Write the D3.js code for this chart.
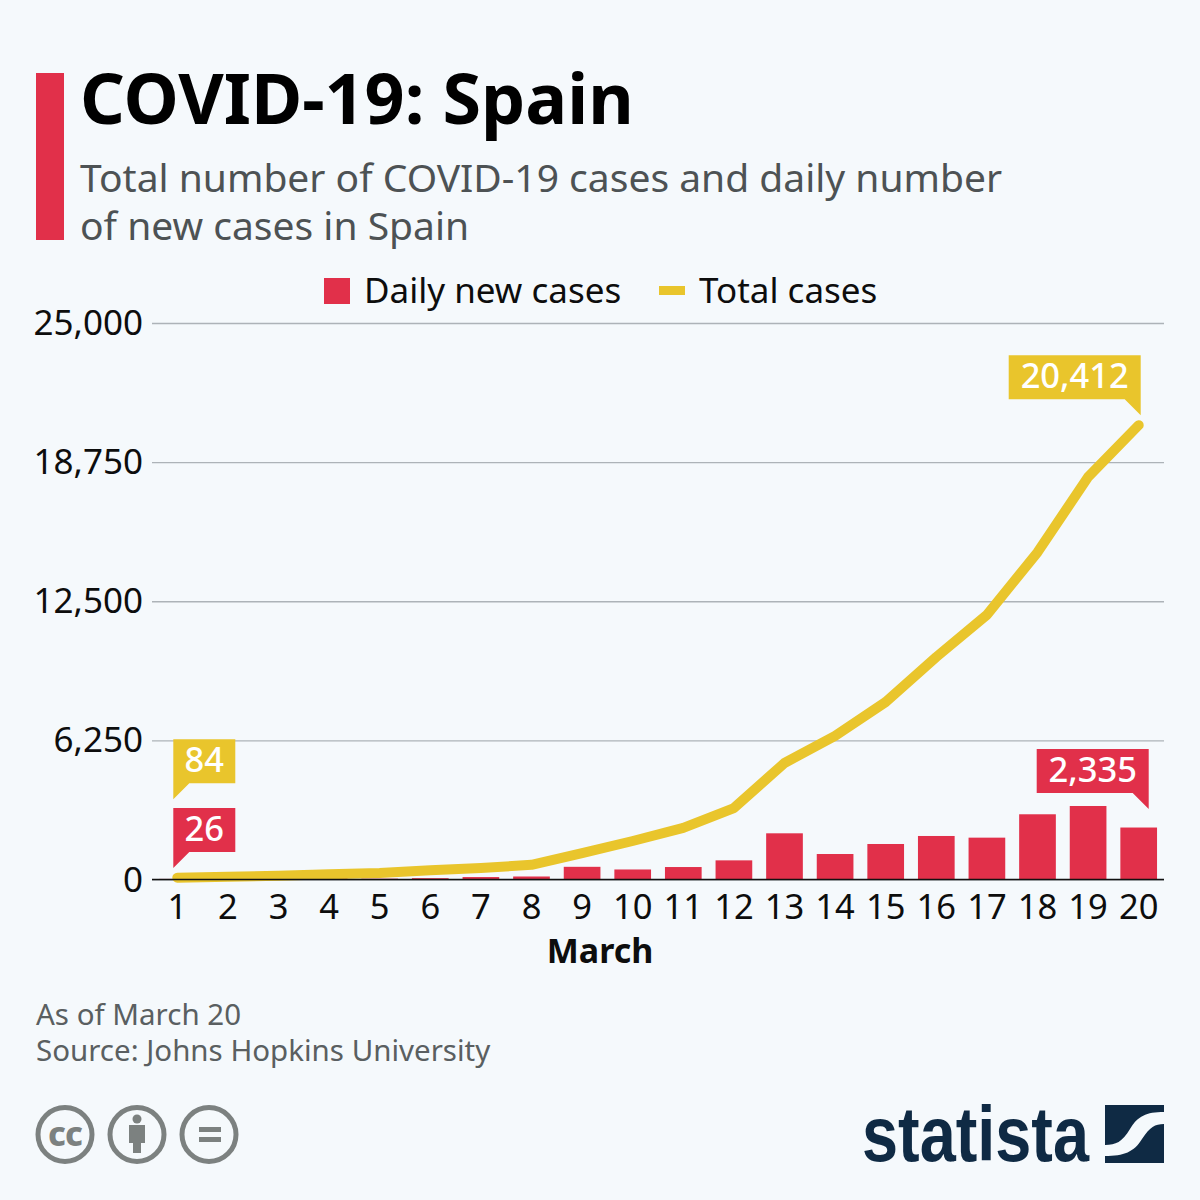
<!DOCTYPE html>
<html lang="en">
<head>
  <meta charset="utf-8">
  <title>COVID-19: Spain</title>
  <script src="https://d3js.org/d3.v7.min.js"></script>
  <style>
    html, body { margin: 0; background: #f5f9fc; }
    svg { display: block; font-family: "Noto Sans", "Open Sans", sans-serif; }
    .axis text { font-family: "Noto Sans", "Open Sans", sans-serif; font-size: 34.5px; fill: #0d0d0d; }
    .axis .domain { display: none; }
    .y-axis line { stroke: #adb3b8; stroke-width: 1.3px; }
    .callout text { font-size: 34.5px; font-weight: 500; fill: #fff; text-anchor: middle; }
  </style>
</head>
<body>
<script>
  // ----------------------------------------------------
  // Data
  // ----------------------------------------------------
  const days = d3.range(1, 21);
  const dailyNew = [26, 36, 45, 57, 37, 60, 110, 135, 570, 450, 560, 860, 2075, 1145, 1595, 1955, 1880, 2930, 3302, 2335];
  const totalCases = [84, 120, 165, 240, 290, 420, 515, 660, 1190, 1730, 2320, 3210, 5233, 6450, 7975, 9995, 11890, 14700, 18080, 20412];
  const yTicks = [0, 6250, 12500, 18750, 25000];
  const legendLabels = ["Daily new cases", "Total cases"];

  const red = "#e1304a";
  const yellow = "#e9c52c";
  const navy = "#0f2a44";
  const grey = "#7c8180";

  const svg = d3.select("body").append("svg")
    .attr("width", 1200)
    .attr("height", 1200);

  // ----------------------------------------------------
  // Header
  // ----------------------------------------------------
  svg.append("rect").attr("x", 36).attr("y", 73).attr("width", 28).attr("height", 167).attr("fill", red);

  svg.append("text").attr("x", 80).attr("y", 124)
    .attr("font-size", 70).attr("font-weight", 700).attr("fill", "#000")
    .text("COVID-19: Spain");

  svg.selectAll(".subtitle")
    .data(["Total number of COVID-19 cases and daily number", "of new cases in Spain"])
    .join("text")
    .attr("class", "subtitle")
    .attr("x", 80)
    .attr("y", (d, i) => 192 + i * 48)
    .attr("font-size", 39)
    .attr("fill", "#4d5254")
    .text(d => d);

  // ----------------------------------------------------
  // Legend
  // ----------------------------------------------------
  svg.append("rect").attr("x", 324).attr("y", 278).attr("width", 26).attr("height", 26).attr("fill", red);
  svg.append("rect").attr("x", 659).attr("y", 286).attr("width", 26).attr("height", 9).attr("fill", yellow);
  svg.selectAll(".legend-label")
    .data(legendLabels)
    .join("text")
    .attr("class", "legend-label")
    .attr("x", (d, i) => i === 0 ? 364 : 699)
    .attr("y", 303)
    .attr("font-size", 35)
    .attr("fill", "#0d0d0d")
    .text(d => d);

  // ----------------------------------------------------
  // Scales and axes
  // ----------------------------------------------------
  const x = d3.scaleBand().domain(days).range([152, 1164]).paddingInner(0.275).paddingOuter(0.1375);
  const y = d3.scaleLinear().domain([0, 25000]).range([879.5, 323]);
  const cx = d => x(d) + x.bandwidth() / 2;

  const yAxis = svg.append("g")
    .attr("class", "axis y-axis")
    .attr("transform", "translate(152,0)")
    .call(d3.axisRight(y).tickValues(yTicks).tickSize(1012).tickFormat(d3.format(",")));
  yAxis.selectAll("text")
    .attr("x", -9)
    .attr("dy", "0.33em")
    .attr("text-anchor", "end")
    .style("font-size", "35px");

  const plot = svg.append("g");

  plot.selectAll(".bar")
    .data(days)
    .join("rect")
    .attr("class", "bar")
    .attr("x", d => x(d))
    .attr("y", (d, i) => y(dailyNew[i]))
    .attr("width", x.bandwidth())
    .attr("height", (d, i) => y(0) - y(dailyNew[i]))
    .attr("fill", red);

  // black baseline sits over the bars' foot
  svg.append("line")
    .attr("x1", 152).attr("x2", 1164)
    .attr("y1", y(0)).attr("y2", y(0))
    .attr("stroke", "#111").attr("stroke-width", 1.3);

  const xAxis = svg.append("g")
    .attr("class", "axis x-axis")
    .attr("transform", `translate(0,${y(0)})`)
    .call(d3.axisBottom(x).tickSize(0).tickPadding(8));
  xAxis.selectAll("text").attr("dy", "0.9em");

  svg.append("text")
    .attr("x", 600).attr("y", 963)
    .attr("text-anchor", "middle")
    .attr("font-size", 34).attr("font-weight", 700).attr("fill", "#0d0d0d")
    .text("March");

  const line = d3.line().x(d => cx(d)).y((d, i) => y(totalCases[i]));
  plot.append("path")
    .datum(days)
    .attr("d", line)
    .attr("fill", "none")
    .attr("stroke", yellow)
    .attr("stroke-width", 10)
    .attr("stroke-linecap", "round")
    .attr("stroke-linejoin", "round");

  // ----------------------------------------------------
  // Callouts: box with a little tail on the outer corner
  // ----------------------------------------------------
  function callout(label, color, tipX, tipY, w, side) {
    const h = 44, tail = 16;
    const top = tipY - tail - h;
    const left = side === "left" ? tipX : tipX - w;
    const right = left + w;
    const pts = side === "left"
      ? [[left, top], [right, top], [right, top + h], [left + tail, top + h], [left, tipY]]
      : [[left, top], [right, top], [right, tipY], [right - tail, top + h], [left, top + h]];
    const g = svg.append("g").attr("class", "callout");
    g.append("path").attr("d", d3.line()(pts) + "Z").attr("fill", color);
    g.append("text").attr("x", (left + right) / 2).attr("y", top + 33).text(label);
  }

  callout(d3.format(",")(totalCases[0]), yellow, cx(1) - 4, y(totalCases[0]) - 78.5, 62, "left");
  callout(d3.format(",")(dailyNew[0]), red, cx(1) - 4, y(dailyNew[0]) - 11, 62, "left");
  callout(d3.format(",")(totalCases[19]), yellow, cx(20) + 2, y(totalCases[19]) - 10, 132, "right");
  callout(d3.format(",")(dailyNew[19]), red, cx(20) + 10, y(dailyNew[19]) - 18.5, 112, "right");

  // ----------------------------------------------------
  // Footer
  // ----------------------------------------------------
  svg.selectAll(".note")
    .data(["As of March 20", "Source: Johns Hopkins University"])
    .join("text")
    .attr("class", "note")
    .attr("x", 36)
    .attr("y", (d, i) => 1024.5 + i * 36.5)
    .attr("font-size", 29.5)
    .attr("fill", "#5a5f61")
    .text(d => d);

  // licence icons
  const icons = svg.append("g").attr("fill", "none").attr("stroke", grey).attr("stroke-width", 5);
  [65, 137, 209].forEach(c => icons.append("circle").attr("cx", c).attr("cy", 1134.5).attr("r", 27));

  svg.append("text").attr("x", 65).attr("y", 1146)
    .attr("text-anchor", "middle")
    .attr("font-size", 34).attr("font-weight", 800).attr("letter-spacing", -1).attr("fill", grey)
    .text("cc");

  svg.append("circle").attr("cx", 137).attr("cy", 1119).attr("r", 4.5).attr("fill", grey);
  svg.append("path").attr("fill", grey)
    .attr("d", "M129 1125H145V1143H141V1153H133V1143H129Z");
  svg.append("rect").attr("x", 199).attr("y", 1127).attr("width", 22).attr("height", 5).attr("fill", grey);
  svg.append("rect").attr("x", 199).attr("y", 1137).attr("width", 22).attr("height", 5).attr("fill", grey);

  // statista logo
  svg.append("text").attr("x", 862).attr("y", 1161)
    .attr("font-family", "'Liberation Sans Narrow', 'Liberation Sans', sans-serif")
    .attr("font-size", 78).attr("font-weight", 700).attr("fill", navy)
    .attr("textLength", 227).attr("lengthAdjust", "spacingAndGlyphs")
    .text("statista");

  svg.append("path").attr("fill", navy)
    .attr("d", "M1105 1105H1164V1112C1146 1112 1138 1116 1130 1129C1122 1142 1116 1145 1105 1145Z");
  svg.append("path").attr("fill", navy)
    .attr("d", "M1164 1124V1163H1105V1156C1124 1156 1134 1152 1142 1139C1150 1127 1155 1124 1164 1124Z");
</script>
</body>
</html>
